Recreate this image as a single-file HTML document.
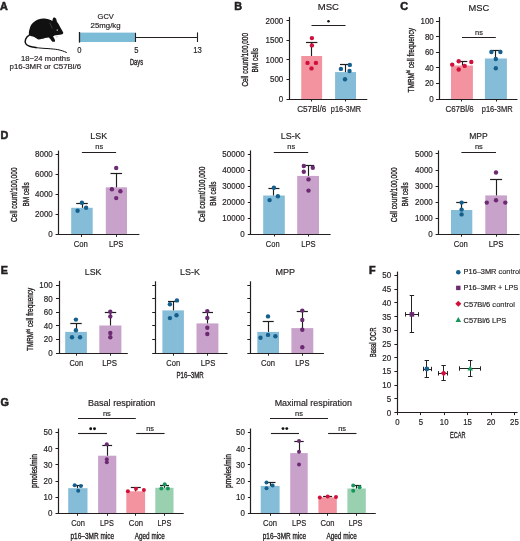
<!DOCTYPE html>
<html><head><meta charset="utf-8"><style>
html,body{margin:0;padding:0;background:#fff;}
body{width:520px;height:541px;overflow:hidden;}
svg{display:block;font-family:"Liberation Sans", sans-serif;filter:blur(0.3px);}
text{stroke:#231f20;stroke-width:0.18px;}
text.c{stroke-width:0.35px;}
text.p{stroke-width:0.55px;}
</style></head><body>
<svg width="520" height="541" viewBox="0 0 520 541" fill="#231f20">
<rect width="520" height="541" fill="#fff"/>
<text class="p" x="0.00" y="10.00" font-size="10.8" font-weight="bold">A</text>
<path fill="#111" d="M28.9,34.8 C28.8,32.5 29.0,30.5 29.4,29.7 C29.9,27.6 30.5,25.8 31.6,24.3 C33.0,22.3 35.2,20.6 38.0,19.4 C40.5,18.6 42.5,18.4 44.6,18.5 C46.6,18.7 48.6,19.3 50.6,20.0 L52.4,20.9 C52.4,19.8 52.8,18.2 53.6,17.4 C54.6,17.3 55.5,17.8 56.1,18.8 C56.6,19.8 56.8,20.8 56.8,21.6 C58.0,23.4 59.4,25.2 60.4,27.4 C61.4,29.2 62.4,30.8 63.2,32.4 C63.4,33.3 62.9,33.9 62.2,34.2 C60.8,34.6 59.0,34.8 57.5,35.1 L54.6,35.4 L53.0,36.6 C53.8,37.8 54.6,39.0 55.0,40.2 C55.2,41.0 55.0,41.7 54.2,41.8 L52.4,41.7 C51.6,40.8 51.0,40.0 50.5,39.3 L48.8,37.6 C47.6,37.9 46.2,38.1 45.1,38.1 C44.2,38.6 42.6,39.0 41.4,39.0 C40.2,39.4 39.2,39.5 38.4,39.4 C37.6,39.2 37.0,38.8 36.6,38.4 C35.2,37.8 34.0,37.1 33.0,36.6 C31.8,36.3 30.8,36.0 30.2,35.7 Z"/>
<path fill="none" stroke="#111" stroke-width="1.5" stroke-linecap="round" d="M29.4,35.2 C27.8,36.0 26.4,37.4 25.6,39.2 C25.0,40.8 25.0,42.4 25.9,43.9 C26.8,45.2 28.0,45.8 29.6,46.3 C31.6,46.9 33.8,47.3 36.0,47.6"/>
<path fill="none" stroke="#111" stroke-width="1.0" stroke-linecap="round" d="M35.5,47.6 C40.0,48.1 44.0,48.4 48.0,48.6 C52.0,48.9 55.0,49.2 57.2,49.5 C59.4,49.9 61.2,50.4 62.6,50.9 C64.0,51.4 65.2,51.9 66.4,52.4"/>
<path fill="none" stroke="#555" stroke-width="0.6" d="M49.6,22.6 C50.6,24.6 51.6,26.6 52.4,28.6"/>
<circle cx="57.3" cy="30.1" r="0.85" fill="#999"/>
<path fill="#ddd" d="M55.2,35.4 L57.6,35.4 L58.2,37.2 L56.2,37.8 Z"/>
<rect x="79.50" y="32.60" width="55.70" height="9.40" fill="#7dbcd6"/>
<line x1="79.50" y1="32.00" x2="79.50" y2="42.60" stroke="#231f20" stroke-width="1.3"/>
<line x1="135.50" y1="32.80" x2="135.50" y2="42.00" stroke="#231f20" stroke-width="1.1"/>
<line x1="135.50" y1="37.50" x2="197.30" y2="37.50" stroke="#231f20" stroke-width="1.1"/>
<line x1="197.50" y1="32.40" x2="197.50" y2="42.00" stroke="#231f20" stroke-width="1.1"/>
<text x="105.70" y="18.80" font-size="7.8" text-anchor="middle" textLength="16.20" lengthAdjust="spacingAndGlyphs">GCV</text>
<text x="105.60" y="28.40" font-size="7.8" text-anchor="middle" textLength="30.00" lengthAdjust="spacingAndGlyphs">25mg/kg</text>
<text x="79.40" y="52.70" font-size="8.6" text-anchor="middle" textLength="4.23" lengthAdjust="spacingAndGlyphs">0</text>
<text x="136.30" y="52.70" font-size="8.6" text-anchor="middle" textLength="4.23" lengthAdjust="spacingAndGlyphs">5</text>
<text x="197.60" y="52.70" font-size="8.6" text-anchor="middle" textLength="8.60" lengthAdjust="spacingAndGlyphs">13</text>
<text class="c" x="136.50" y="65.20" font-size="8.6" text-anchor="middle" textLength="13.00" lengthAdjust="spacingAndGlyphs">Days</text>
<text x="45.50" y="60.50" font-size="7.7" text-anchor="middle" textLength="49.00" lengthAdjust="spacingAndGlyphs">18−24 months</text>
<text x="45.30" y="68.50" font-size="7.8" text-anchor="middle" textLength="71.50" lengthAdjust="spacingAndGlyphs">p16-3MR or C57Bl/6</text>
<text class="p" x="234.30" y="9.80" font-size="10.8" font-weight="bold">B</text>
<text x="328.30" y="10.00" font-size="9.5" text-anchor="middle" textLength="21.20" lengthAdjust="spacingAndGlyphs">MSC</text>
<line x1="286.50" y1="20.50" x2="289.50" y2="20.50" stroke="#231f20" stroke-width="1.0"/>
<text x="283.30" y="23.55" font-size="8.5" text-anchor="end" textLength="17.80" lengthAdjust="spacingAndGlyphs">2000</text>
<line x1="286.50" y1="40.50" x2="289.50" y2="40.50" stroke="#231f20" stroke-width="1.0"/>
<text x="283.30" y="43.15" font-size="8.5" text-anchor="end" textLength="17.80" lengthAdjust="spacingAndGlyphs">1500</text>
<line x1="286.50" y1="59.50" x2="289.50" y2="59.50" stroke="#231f20" stroke-width="1.0"/>
<text x="283.30" y="62.75" font-size="8.5" text-anchor="end" textLength="17.80" lengthAdjust="spacingAndGlyphs">1000</text>
<line x1="286.50" y1="79.50" x2="289.50" y2="79.50" stroke="#231f20" stroke-width="1.0"/>
<text x="283.30" y="82.35" font-size="8.5" text-anchor="end" textLength="13.35" lengthAdjust="spacingAndGlyphs">500</text>
<line x1="286.50" y1="99.50" x2="289.50" y2="99.50" stroke="#231f20" stroke-width="1.0"/>
<text x="283.30" y="101.95" font-size="8.5" text-anchor="end" textLength="4.45" lengthAdjust="spacingAndGlyphs">0</text>
<line x1="311.50" y1="99.00" x2="311.50" y2="101.50" stroke="#231f20" stroke-width="1.0"/>
<line x1="345.50" y1="99.00" x2="345.50" y2="101.50" stroke="#231f20" stroke-width="1.0"/>
<rect x="301.25" y="56.00" width="20.85" height="43.00" fill="#f2939f"/>
<rect x="335.10" y="72.10" width="20.90" height="26.90" fill="#85bcd8"/>
<line x1="311.50" y1="56.00" x2="311.50" y2="42.50" stroke="#1e1e1e" stroke-width="1.15"/>
<line x1="306.00" y1="42.50" x2="317.40" y2="42.50" stroke="#1e1e1e" stroke-width="1.2"/>
<line x1="345.50" y1="72.10" x2="345.50" y2="64.90" stroke="#1e1e1e" stroke-width="1.15"/>
<line x1="340.00" y1="64.50" x2="350.40" y2="64.50" stroke="#1e1e1e" stroke-width="1.2"/>
<circle cx="311.90" cy="38.10" r="2.2" fill="#d0103b"/>
<circle cx="311.90" cy="45.40" r="2.2" fill="#d0103b"/>
<circle cx="307.50" cy="62.90" r="2.2" fill="#d0103b"/>
<circle cx="315.90" cy="62.90" r="2.2" fill="#d0103b"/>
<circle cx="311.50" cy="68.40" r="2.2" fill="#d0103b"/>
<circle cx="349.80" cy="64.90" r="2.2" fill="#155f8c"/>
<circle cx="340.90" cy="68.90" r="2.2" fill="#155f8c"/>
<circle cx="349.50" cy="71.00" r="2.2" fill="#155f8c"/>
<circle cx="345.00" cy="79.30" r="2.2" fill="#155f8c"/>
<line x1="311.50" y1="25.50" x2="345.50" y2="25.50" stroke="#231f20" stroke-width="1.1"/>
<circle cx="328.50" cy="21.30" r="1.25" fill="#111"/>
<text x="311.70" y="111.90" font-size="8.5" text-anchor="middle" textLength="29.10" lengthAdjust="spacingAndGlyphs">C57Bl/6</text>
<text x="346.00" y="111.50" font-size="8.5" text-anchor="middle" textLength="30.30" lengthAdjust="spacingAndGlyphs">p16-3MR</text>
<text class="c" x="0" y="0" font-size="9.0" text-anchor="middle" textLength="53.60" lengthAdjust="spacingAndGlyphs" transform="translate(247.50 59.80) rotate(-90)">Cell count/100,000</text>
<text class="c" x="0" y="0" font-size="9.0" text-anchor="middle" textLength="24.40" lengthAdjust="spacingAndGlyphs" transform="translate(257.80 60.30) rotate(-90)">BM cells</text>
<text class="p" x="400.30" y="10.00" font-size="10.8" font-weight="bold">C</text>
<text x="478.90" y="10.80" font-size="9.5" text-anchor="middle" textLength="20.70" lengthAdjust="spacingAndGlyphs">MSC</text>
<line x1="436.00" y1="21.50" x2="439.00" y2="21.50" stroke="#231f20" stroke-width="1.0"/>
<text x="433.80" y="23.95" font-size="8.5" text-anchor="end" textLength="13.35" lengthAdjust="spacingAndGlyphs">100</text>
<line x1="436.00" y1="36.50" x2="439.00" y2="36.50" stroke="#231f20" stroke-width="1.0"/>
<text x="433.80" y="39.55" font-size="8.5" text-anchor="end" textLength="8.90" lengthAdjust="spacingAndGlyphs">80</text>
<line x1="436.00" y1="52.50" x2="439.00" y2="52.50" stroke="#231f20" stroke-width="1.0"/>
<text x="433.80" y="55.25" font-size="8.5" text-anchor="end" textLength="8.90" lengthAdjust="spacingAndGlyphs">60</text>
<line x1="436.00" y1="67.50" x2="439.00" y2="67.50" stroke="#231f20" stroke-width="1.0"/>
<text x="433.80" y="70.75" font-size="8.5" text-anchor="end" textLength="8.90" lengthAdjust="spacingAndGlyphs">40</text>
<line x1="436.00" y1="83.50" x2="439.00" y2="83.50" stroke="#231f20" stroke-width="1.0"/>
<text x="433.80" y="86.35" font-size="8.5" text-anchor="end" textLength="8.90" lengthAdjust="spacingAndGlyphs">20</text>
<line x1="436.00" y1="99.50" x2="439.00" y2="99.50" stroke="#231f20" stroke-width="1.0"/>
<text x="433.80" y="101.95" font-size="8.5" text-anchor="end" textLength="4.45" lengthAdjust="spacingAndGlyphs">0</text>
<line x1="461.50" y1="99.00" x2="461.50" y2="101.50" stroke="#231f20" stroke-width="1.0"/>
<line x1="496.50" y1="99.00" x2="496.50" y2="101.50" stroke="#231f20" stroke-width="1.0"/>
<rect x="451.00" y="65.50" width="21.90" height="33.50" fill="#f2939f"/>
<rect x="484.90" y="58.50" width="22.00" height="40.50" fill="#85bcd8"/>
<line x1="462.50" y1="65.50" x2="462.50" y2="61.30" stroke="#1e1e1e" stroke-width="1.15"/>
<line x1="457.70" y1="61.50" x2="467.30" y2="61.50" stroke="#1e1e1e" stroke-width="1.2"/>
<line x1="495.50" y1="58.50" x2="495.50" y2="50.30" stroke="#1e1e1e" stroke-width="1.15"/>
<line x1="490.60" y1="50.50" x2="501.20" y2="50.50" stroke="#1e1e1e" stroke-width="1.2"/>
<circle cx="452.20" cy="64.60" r="2.2" fill="#d0103b"/>
<circle cx="458.70" cy="61.30" r="2.2" fill="#d0103b"/>
<circle cx="471.30" cy="62.00" r="2.2" fill="#d0103b"/>
<circle cx="464.70" cy="65.90" r="2.2" fill="#d0103b"/>
<circle cx="458.70" cy="69.50" r="2.2" fill="#d0103b"/>
<circle cx="491.40" cy="52.00" r="2.2" fill="#155f8c"/>
<circle cx="500.40" cy="52.00" r="2.2" fill="#155f8c"/>
<circle cx="495.80" cy="59.00" r="2.2" fill="#155f8c"/>
<circle cx="495.80" cy="68.30" r="2.2" fill="#155f8c"/>
<line x1="462.00" y1="37.50" x2="495.80" y2="37.50" stroke="#231f20" stroke-width="1.1"/>
<text x="479.00" y="34.80" font-size="7.6" text-anchor="middle" textLength="7.82" lengthAdjust="spacingAndGlyphs">ns</text>
<text x="459.60" y="112.00" font-size="8.5" text-anchor="middle" textLength="28.40" lengthAdjust="spacingAndGlyphs">C67Bl/6</text>
<text x="497.20" y="111.50" font-size="8.5" text-anchor="middle" textLength="30.80" lengthAdjust="spacingAndGlyphs">p16-3MR</text>
<text class="c" x="0" y="0" font-size="9.0" text-anchor="middle" textLength="64.40" lengthAdjust="spacingAndGlyphs" transform="translate(413.50 60.30) rotate(-90)">TMRM<tspan font-size="5.4" dy="-3.6">hi</tspan><tspan dy="3.6"> cell frequency</tspan></text>
<text class="p" x="0.50" y="139.00" font-size="10.8" font-weight="bold">D</text>
<text x="98.80" y="139.20" font-size="9.5" text-anchor="middle" textLength="16.90" lengthAdjust="spacingAndGlyphs">LSK</text>
<line x1="81.90" y1="152.50" x2="116.10" y2="152.50" stroke="#231f20" stroke-width="1.1"/>
<text x="99.20" y="149.20" font-size="7.6" text-anchor="middle" textLength="7.82" lengthAdjust="spacingAndGlyphs">ns</text>
<line x1="55.60" y1="154.50" x2="58.60" y2="154.50" stroke="#231f20" stroke-width="1.0"/>
<text x="52.80" y="157.35" font-size="8.5" text-anchor="end" textLength="17.80" lengthAdjust="spacingAndGlyphs">8000</text>
<line x1="55.60" y1="174.50" x2="58.60" y2="174.50" stroke="#231f20" stroke-width="1.0"/>
<text x="52.80" y="177.35" font-size="8.5" text-anchor="end" textLength="17.80" lengthAdjust="spacingAndGlyphs">6000</text>
<line x1="55.60" y1="194.50" x2="58.60" y2="194.50" stroke="#231f20" stroke-width="1.0"/>
<text x="52.80" y="197.35" font-size="8.5" text-anchor="end" textLength="17.80" lengthAdjust="spacingAndGlyphs">4000</text>
<line x1="55.60" y1="214.50" x2="58.60" y2="214.50" stroke="#231f20" stroke-width="1.0"/>
<text x="52.80" y="217.35" font-size="8.5" text-anchor="end" textLength="17.80" lengthAdjust="spacingAndGlyphs">2000</text>
<line x1="55.60" y1="234.50" x2="58.60" y2="234.50" stroke="#231f20" stroke-width="1.0"/>
<text x="52.80" y="237.35" font-size="8.5" text-anchor="end" textLength="4.45" lengthAdjust="spacingAndGlyphs">0</text>
<line x1="81.50" y1="234.40" x2="81.50" y2="236.90" stroke="#231f20" stroke-width="1.0"/>
<line x1="116.50" y1="234.40" x2="116.50" y2="236.90" stroke="#231f20" stroke-width="1.0"/>
<rect x="71.20" y="207.80" width="21.50" height="26.60" fill="#85bcd8"/>
<rect x="105.80" y="187.30" width="21.20" height="47.10" fill="#c9a2cb"/>
<line x1="82.50" y1="207.80" x2="82.50" y2="203.20" stroke="#1e1e1e" stroke-width="1.15"/>
<line x1="76.20" y1="203.50" x2="87.80" y2="203.50" stroke="#1e1e1e" stroke-width="1.2"/>
<line x1="116.50" y1="187.30" x2="116.50" y2="173.80" stroke="#1e1e1e" stroke-width="1.15"/>
<line x1="110.50" y1="173.50" x2="122.10" y2="173.50" stroke="#1e1e1e" stroke-width="1.2"/>
<circle cx="81.90" cy="202.70" r="2.2" fill="#155f8c"/>
<circle cx="86.10" cy="207.80" r="2.2" fill="#155f8c"/>
<circle cx="77.60" cy="210.70" r="2.2" fill="#155f8c"/>
<circle cx="116.20" cy="168.00" r="2.2" fill="#6c2a72"/>
<circle cx="111.90" cy="189.30" r="2.2" fill="#6c2a72"/>
<circle cx="120.40" cy="191.20" r="2.2" fill="#6c2a72"/>
<circle cx="116.20" cy="198.10" r="2.2" fill="#6c2a72"/>
<text x="80.80" y="246.60" font-size="8.5" text-anchor="middle" textLength="14.20" lengthAdjust="spacingAndGlyphs">Con</text>
<text x="116.20" y="246.60" font-size="8.5" text-anchor="middle" textLength="14.30" lengthAdjust="spacingAndGlyphs">LPS</text>
<text class="c" x="0" y="0" font-size="9.0" text-anchor="middle" textLength="54.40" lengthAdjust="spacingAndGlyphs" transform="translate(17.30 194.70) rotate(-90)">Cell count/100,000</text>
<text class="c" x="0" y="0" font-size="9.0" text-anchor="middle" textLength="24.20" lengthAdjust="spacingAndGlyphs" transform="translate(28.90 194.50) rotate(-90)">BM cells</text>
<text x="290.80" y="139.20" font-size="9.5" text-anchor="middle" textLength="20.00" lengthAdjust="spacingAndGlyphs">LS-K</text>
<line x1="273.80" y1="152.50" x2="308.20" y2="152.50" stroke="#231f20" stroke-width="1.1"/>
<text x="291.20" y="149.30" font-size="7.6" text-anchor="middle" textLength="7.82" lengthAdjust="spacingAndGlyphs">ns</text>
<line x1="247.80" y1="154.50" x2="250.80" y2="154.50" stroke="#231f20" stroke-width="1.0"/>
<text x="244.60" y="156.95" font-size="8.5" text-anchor="end" textLength="22.25" lengthAdjust="spacingAndGlyphs">50000</text>
<line x1="247.80" y1="170.50" x2="250.80" y2="170.50" stroke="#231f20" stroke-width="1.0"/>
<text x="244.60" y="172.95" font-size="8.5" text-anchor="end" textLength="22.25" lengthAdjust="spacingAndGlyphs">40000</text>
<line x1="247.80" y1="186.50" x2="250.80" y2="186.50" stroke="#231f20" stroke-width="1.0"/>
<text x="244.60" y="188.95" font-size="8.5" text-anchor="end" textLength="22.25" lengthAdjust="spacingAndGlyphs">30000</text>
<line x1="247.80" y1="202.50" x2="250.80" y2="202.50" stroke="#231f20" stroke-width="1.0"/>
<text x="244.60" y="204.95" font-size="8.5" text-anchor="end" textLength="22.25" lengthAdjust="spacingAndGlyphs">20000</text>
<line x1="247.80" y1="218.50" x2="250.80" y2="218.50" stroke="#231f20" stroke-width="1.0"/>
<text x="244.60" y="220.95" font-size="8.5" text-anchor="end" textLength="22.25" lengthAdjust="spacingAndGlyphs">10000</text>
<line x1="247.80" y1="234.50" x2="250.80" y2="234.50" stroke="#231f20" stroke-width="1.0"/>
<text x="244.60" y="236.95" font-size="8.5" text-anchor="end" textLength="4.45" lengthAdjust="spacingAndGlyphs">0</text>
<line x1="274.50" y1="234.00" x2="274.50" y2="236.50" stroke="#231f20" stroke-width="1.0"/>
<line x1="308.50" y1="234.00" x2="308.50" y2="236.50" stroke="#231f20" stroke-width="1.0"/>
<rect x="263.20" y="195.50" width="21.60" height="38.50" fill="#85bcd8"/>
<rect x="297.20" y="175.90" width="21.80" height="58.10" fill="#c9a2cb"/>
<line x1="273.50" y1="195.50" x2="273.50" y2="188.20" stroke="#1e1e1e" stroke-width="1.15"/>
<line x1="268.40" y1="188.50" x2="279.40" y2="188.50" stroke="#1e1e1e" stroke-width="1.2"/>
<line x1="308.50" y1="175.90" x2="308.50" y2="165.20" stroke="#1e1e1e" stroke-width="1.15"/>
<line x1="302.40" y1="165.50" x2="314.20" y2="165.50" stroke="#1e1e1e" stroke-width="1.2"/>
<circle cx="273.90" cy="187.70" r="2.2" fill="#155f8c"/>
<circle cx="277.90" cy="196.30" r="2.2" fill="#155f8c"/>
<circle cx="269.60" cy="200.10" r="2.2" fill="#155f8c"/>
<circle cx="303.80" cy="166.00" r="2.2" fill="#6c2a72"/>
<circle cx="312.80" cy="167.80" r="2.2" fill="#6c2a72"/>
<circle cx="303.80" cy="171.80" r="2.2" fill="#6c2a72"/>
<circle cx="308.50" cy="179.40" r="2.2" fill="#6c2a72"/>
<circle cx="308.50" cy="190.60" r="2.2" fill="#6c2a72"/>
<text x="272.70" y="247.00" font-size="8.5" text-anchor="middle" textLength="13.80" lengthAdjust="spacingAndGlyphs">Con</text>
<text x="308.40" y="247.00" font-size="8.5" text-anchor="middle" textLength="14.40" lengthAdjust="spacingAndGlyphs">LPS</text>
<text class="c" x="0" y="0" font-size="9.0" text-anchor="middle" textLength="55.30" lengthAdjust="spacingAndGlyphs" transform="translate(205.10 194.30) rotate(-90)">Cell count/100,000</text>
<text class="c" x="0" y="0" font-size="9.0" text-anchor="middle" textLength="24.10" lengthAdjust="spacingAndGlyphs" transform="translate(215.90 193.70) rotate(-90)">BM cells</text>
<text x="478.50" y="138.80" font-size="9.5" text-anchor="middle" textLength="18.50" lengthAdjust="spacingAndGlyphs">MPP</text>
<line x1="461.40" y1="152.50" x2="496.00" y2="152.50" stroke="#231f20" stroke-width="1.1"/>
<text x="478.90" y="149.30" font-size="7.6" text-anchor="middle" textLength="7.82" lengthAdjust="spacingAndGlyphs">ns</text>
<line x1="435.60" y1="153.50" x2="438.60" y2="153.50" stroke="#231f20" stroke-width="1.0"/>
<text x="432.80" y="156.75" font-size="8.5" text-anchor="end" textLength="17.80" lengthAdjust="spacingAndGlyphs">5000</text>
<line x1="435.60" y1="170.50" x2="438.60" y2="170.50" stroke="#231f20" stroke-width="1.0"/>
<text x="432.80" y="172.95" font-size="8.5" text-anchor="end" textLength="17.80" lengthAdjust="spacingAndGlyphs">4000</text>
<line x1="435.60" y1="186.50" x2="438.60" y2="186.50" stroke="#231f20" stroke-width="1.0"/>
<text x="432.80" y="189.05" font-size="8.5" text-anchor="end" textLength="17.80" lengthAdjust="spacingAndGlyphs">3000</text>
<line x1="435.60" y1="202.50" x2="438.60" y2="202.50" stroke="#231f20" stroke-width="1.0"/>
<text x="432.80" y="205.15" font-size="8.5" text-anchor="end" textLength="17.80" lengthAdjust="spacingAndGlyphs">2000</text>
<line x1="435.60" y1="218.50" x2="438.60" y2="218.50" stroke="#231f20" stroke-width="1.0"/>
<text x="432.80" y="221.15" font-size="8.5" text-anchor="end" textLength="17.80" lengthAdjust="spacingAndGlyphs">1000</text>
<line x1="435.60" y1="234.50" x2="438.60" y2="234.50" stroke="#231f20" stroke-width="1.0"/>
<text x="432.80" y="237.15" font-size="8.5" text-anchor="end" textLength="4.45" lengthAdjust="spacingAndGlyphs">0</text>
<line x1="461.50" y1="234.20" x2="461.50" y2="236.70" stroke="#231f20" stroke-width="1.0"/>
<line x1="496.50" y1="234.20" x2="496.50" y2="236.70" stroke="#231f20" stroke-width="1.0"/>
<rect x="451.00" y="210.00" width="21.30" height="24.20" fill="#85bcd8"/>
<rect x="485.30" y="195.40" width="21.70" height="38.80" fill="#c9a2cb"/>
<line x1="461.50" y1="210.00" x2="461.50" y2="202.80" stroke="#1e1e1e" stroke-width="1.15"/>
<line x1="456.20" y1="202.50" x2="467.20" y2="202.50" stroke="#1e1e1e" stroke-width="1.2"/>
<line x1="496.50" y1="195.40" x2="496.50" y2="179.90" stroke="#1e1e1e" stroke-width="1.15"/>
<line x1="490.10" y1="179.50" x2="502.10" y2="179.50" stroke="#1e1e1e" stroke-width="1.2"/>
<circle cx="461.60" cy="202.60" r="2.2" fill="#155f8c"/>
<circle cx="461.60" cy="209.60" r="2.2" fill="#155f8c"/>
<circle cx="461.60" cy="214.40" r="2.2" fill="#155f8c"/>
<circle cx="496.00" cy="172.50" r="2.2" fill="#6c2a72"/>
<circle cx="486.80" cy="202.60" r="2.2" fill="#6c2a72"/>
<circle cx="496.00" cy="200.30" r="2.2" fill="#6c2a72"/>
<circle cx="505.30" cy="202.60" r="2.2" fill="#6c2a72"/>
<text x="460.80" y="247.00" font-size="8.5" text-anchor="middle" textLength="14.10" lengthAdjust="spacingAndGlyphs">Con</text>
<text x="496.00" y="247.00" font-size="8.5" text-anchor="middle" textLength="14.70" lengthAdjust="spacingAndGlyphs">LPS</text>
<text class="c" x="0" y="0" font-size="9.0" text-anchor="middle" textLength="54.90" lengthAdjust="spacingAndGlyphs" transform="translate(397.20 194.90) rotate(-90)">Cell count/100,000</text>
<text class="c" x="0" y="0" font-size="9.0" text-anchor="middle" textLength="24.20" lengthAdjust="spacingAndGlyphs" transform="translate(408.40 194.50) rotate(-90)">BM cells</text>
<text class="p" x="0.70" y="274.00" font-size="10.8" font-weight="bold">E</text>
<text x="93.10" y="274.50" font-size="9.5" text-anchor="middle" textLength="16.60" lengthAdjust="spacingAndGlyphs">LSK</text>
<line x1="56.00" y1="285.50" x2="59.00" y2="285.50" stroke="#231f20" stroke-width="1.0"/>
<text x="52.60" y="287.95" font-size="8.5" text-anchor="end" textLength="13.35" lengthAdjust="spacingAndGlyphs">100</text>
<line x1="56.00" y1="298.50" x2="59.00" y2="298.50" stroke="#231f20" stroke-width="1.0"/>
<text x="52.60" y="301.55" font-size="8.5" text-anchor="end" textLength="8.90" lengthAdjust="spacingAndGlyphs">80</text>
<line x1="56.00" y1="312.50" x2="59.00" y2="312.50" stroke="#231f20" stroke-width="1.0"/>
<text x="52.60" y="315.15" font-size="8.5" text-anchor="end" textLength="8.90" lengthAdjust="spacingAndGlyphs">60</text>
<line x1="56.00" y1="325.50" x2="59.00" y2="325.50" stroke="#231f20" stroke-width="1.0"/>
<text x="52.60" y="328.85" font-size="8.5" text-anchor="end" textLength="8.90" lengthAdjust="spacingAndGlyphs">40</text>
<line x1="56.00" y1="339.50" x2="59.00" y2="339.50" stroke="#231f20" stroke-width="1.0"/>
<text x="52.60" y="342.45" font-size="8.5" text-anchor="end" textLength="8.90" lengthAdjust="spacingAndGlyphs">20</text>
<line x1="56.00" y1="353.50" x2="59.00" y2="353.50" stroke="#231f20" stroke-width="1.0"/>
<text x="52.60" y="356.15" font-size="8.5" text-anchor="end" textLength="4.45" lengthAdjust="spacingAndGlyphs">0</text>
<line x1="76.50" y1="353.20" x2="76.50" y2="355.70" stroke="#231f20" stroke-width="1.0"/>
<line x1="110.50" y1="353.20" x2="110.50" y2="355.70" stroke="#231f20" stroke-width="1.0"/>
<rect x="65.20" y="331.90" width="21.70" height="21.30" fill="#85bcd8"/>
<rect x="99.30" y="325.50" width="22.10" height="27.70" fill="#c9a2cb"/>
<line x1="76.50" y1="331.90" x2="76.50" y2="323.20" stroke="#1e1e1e" stroke-width="1.15"/>
<line x1="70.30" y1="323.50" x2="81.70" y2="323.50" stroke="#1e1e1e" stroke-width="1.2"/>
<line x1="110.50" y1="325.50" x2="110.50" y2="312.10" stroke="#1e1e1e" stroke-width="1.15"/>
<line x1="104.80" y1="312.50" x2="116.20" y2="312.50" stroke="#1e1e1e" stroke-width="1.2"/>
<circle cx="75.90" cy="319.60" r="2.2" fill="#155f8c"/>
<circle cx="75.90" cy="330.20" r="2.2" fill="#155f8c"/>
<circle cx="72.00" cy="337.20" r="2.2" fill="#155f8c"/>
<circle cx="80.10" cy="337.20" r="2.2" fill="#155f8c"/>
<circle cx="110.30" cy="311.70" r="2.2" fill="#6c2a72"/>
<circle cx="110.30" cy="316.40" r="2.2" fill="#6c2a72"/>
<circle cx="110.30" cy="333.00" r="2.2" fill="#6c2a72"/>
<circle cx="110.30" cy="337.20" r="2.2" fill="#6c2a72"/>
<text x="76.30" y="366.00" font-size="8.5" text-anchor="middle" textLength="13.60" lengthAdjust="spacingAndGlyphs">Con</text>
<text x="109.60" y="366.00" font-size="8.5" text-anchor="middle" textLength="14.90" lengthAdjust="spacingAndGlyphs">LPS</text>
<text class="c" x="0" y="0" font-size="9.0" text-anchor="middle" textLength="63.20" lengthAdjust="spacingAndGlyphs" transform="translate(33.40 319.40) rotate(-90)">TMRM<tspan font-size="5.4" dy="-3.6">hi</tspan><tspan dy="3.6"> cell frequency</tspan></text>
<text x="190.00" y="274.50" font-size="9.5" text-anchor="middle" textLength="19.80" lengthAdjust="spacingAndGlyphs">LS-K</text>
<line x1="152.20" y1="285.50" x2="155.20" y2="285.50" stroke="#231f20" stroke-width="1.0"/>
<line x1="152.20" y1="298.50" x2="155.20" y2="298.50" stroke="#231f20" stroke-width="1.0"/>
<line x1="152.20" y1="312.50" x2="155.20" y2="312.50" stroke="#231f20" stroke-width="1.0"/>
<line x1="152.20" y1="325.50" x2="155.20" y2="325.50" stroke="#231f20" stroke-width="1.0"/>
<line x1="152.20" y1="339.50" x2="155.20" y2="339.50" stroke="#231f20" stroke-width="1.0"/>
<line x1="152.20" y1="353.50" x2="155.20" y2="353.50" stroke="#231f20" stroke-width="1.0"/>
<line x1="173.50" y1="353.20" x2="173.50" y2="355.70" stroke="#231f20" stroke-width="1.0"/>
<line x1="207.50" y1="353.20" x2="207.50" y2="355.70" stroke="#231f20" stroke-width="1.0"/>
<rect x="162.40" y="310.40" width="21.50" height="42.80" fill="#85bcd8"/>
<rect x="196.50" y="323.40" width="21.90" height="29.80" fill="#c9a2cb"/>
<line x1="173.50" y1="310.40" x2="173.50" y2="301.10" stroke="#1e1e1e" stroke-width="1.15"/>
<line x1="168.00" y1="301.50" x2="178.60" y2="301.50" stroke="#1e1e1e" stroke-width="1.2"/>
<line x1="207.50" y1="323.40" x2="207.50" y2="312.60" stroke="#1e1e1e" stroke-width="1.15"/>
<line x1="202.40" y1="312.50" x2="213.00" y2="312.50" stroke="#1e1e1e" stroke-width="1.2"/>
<circle cx="176.90" cy="300.40" r="2.2" fill="#155f8c"/>
<circle cx="169.90" cy="304.30" r="2.2" fill="#155f8c"/>
<circle cx="176.50" cy="315.30" r="2.2" fill="#155f8c"/>
<circle cx="169.90" cy="318.10" r="2.2" fill="#155f8c"/>
<circle cx="207.30" cy="311.10" r="2.2" fill="#6c2a72"/>
<circle cx="207.30" cy="317.90" r="2.2" fill="#6c2a72"/>
<circle cx="207.30" cy="327.70" r="2.2" fill="#6c2a72"/>
<circle cx="207.30" cy="334.00" r="2.2" fill="#6c2a72"/>
<text x="173.20" y="365.80" font-size="8.5" text-anchor="middle" textLength="13.80" lengthAdjust="spacingAndGlyphs">Con</text>
<text x="208.00" y="365.80" font-size="8.5" text-anchor="middle" textLength="14.50" lengthAdjust="spacingAndGlyphs">LPS</text>
<text class="c" x="190.10" y="378.00" font-size="9.4" text-anchor="middle" textLength="27.20" lengthAdjust="spacingAndGlyphs">P16–3MR</text>
<text x="285.20" y="274.50" font-size="9.5" text-anchor="middle" textLength="19.60" lengthAdjust="spacingAndGlyphs">MPP</text>
<line x1="247.30" y1="285.50" x2="250.30" y2="285.50" stroke="#231f20" stroke-width="1.0"/>
<line x1="247.30" y1="298.50" x2="250.30" y2="298.50" stroke="#231f20" stroke-width="1.0"/>
<line x1="247.30" y1="312.50" x2="250.30" y2="312.50" stroke="#231f20" stroke-width="1.0"/>
<line x1="247.30" y1="325.50" x2="250.30" y2="325.50" stroke="#231f20" stroke-width="1.0"/>
<line x1="247.30" y1="339.50" x2="250.30" y2="339.50" stroke="#231f20" stroke-width="1.0"/>
<line x1="247.30" y1="353.50" x2="250.30" y2="353.50" stroke="#231f20" stroke-width="1.0"/>
<line x1="268.50" y1="353.20" x2="268.50" y2="355.70" stroke="#231f20" stroke-width="1.0"/>
<line x1="302.50" y1="353.20" x2="302.50" y2="355.70" stroke="#231f20" stroke-width="1.0"/>
<rect x="257.30" y="331.90" width="21.70" height="21.30" fill="#85bcd8"/>
<rect x="291.40" y="328.10" width="21.90" height="25.10" fill="#c9a2cb"/>
<line x1="268.50" y1="331.90" x2="268.50" y2="321.30" stroke="#1e1e1e" stroke-width="1.15"/>
<line x1="262.70" y1="321.50" x2="273.70" y2="321.50" stroke="#1e1e1e" stroke-width="1.2"/>
<line x1="302.50" y1="328.10" x2="302.50" y2="311.10" stroke="#1e1e1e" stroke-width="1.15"/>
<line x1="296.70" y1="311.50" x2="307.90" y2="311.50" stroke="#1e1e1e" stroke-width="1.2"/>
<circle cx="268.00" cy="316.40" r="2.2" fill="#155f8c"/>
<circle cx="268.00" cy="334.90" r="2.2" fill="#155f8c"/>
<circle cx="260.50" cy="337.70" r="2.2" fill="#155f8c"/>
<circle cx="275.40" cy="336.20" r="2.2" fill="#155f8c"/>
<circle cx="302.30" cy="310.60" r="2.2" fill="#6c2a72"/>
<circle cx="302.30" cy="320.00" r="2.2" fill="#6c2a72"/>
<circle cx="302.30" cy="329.80" r="2.2" fill="#6c2a72"/>
<circle cx="302.30" cy="347.20" r="2.2" fill="#6c2a72"/>
<text x="268.00" y="365.80" font-size="8.5" text-anchor="middle" textLength="14.00" lengthAdjust="spacingAndGlyphs">Con</text>
<text x="302.30" y="365.80" font-size="8.5" text-anchor="middle" textLength="14.30" lengthAdjust="spacingAndGlyphs">LPS</text>
<text class="p" x="369.00" y="274.10" font-size="10.8" font-weight="bold">F</text>
<line x1="394.40" y1="412.50" x2="397.40" y2="412.50" stroke="#231f20" stroke-width="1.0"/>
<text x="391.20" y="415.55" font-size="8.5" text-anchor="end" textLength="4.45" lengthAdjust="spacingAndGlyphs">0</text>
<line x1="394.40" y1="398.50" x2="397.40" y2="398.50" stroke="#231f20" stroke-width="1.0"/>
<text x="391.20" y="401.83" font-size="8.5" text-anchor="end" textLength="4.45" lengthAdjust="spacingAndGlyphs">5</text>
<line x1="394.40" y1="385.50" x2="397.40" y2="385.50" stroke="#231f20" stroke-width="1.0"/>
<text x="391.20" y="388.11" font-size="8.5" text-anchor="end" textLength="8.90" lengthAdjust="spacingAndGlyphs">10</text>
<line x1="394.40" y1="371.50" x2="397.40" y2="371.50" stroke="#231f20" stroke-width="1.0"/>
<text x="391.20" y="374.39" font-size="8.5" text-anchor="end" textLength="8.90" lengthAdjust="spacingAndGlyphs">15</text>
<line x1="394.40" y1="357.50" x2="397.40" y2="357.50" stroke="#231f20" stroke-width="1.0"/>
<text x="391.20" y="360.67" font-size="8.5" text-anchor="end" textLength="8.90" lengthAdjust="spacingAndGlyphs">20</text>
<line x1="394.40" y1="344.50" x2="397.40" y2="344.50" stroke="#231f20" stroke-width="1.0"/>
<text x="391.20" y="346.95" font-size="8.5" text-anchor="end" textLength="8.90" lengthAdjust="spacingAndGlyphs">25</text>
<line x1="394.40" y1="330.50" x2="397.40" y2="330.50" stroke="#231f20" stroke-width="1.0"/>
<text x="391.20" y="333.23" font-size="8.5" text-anchor="end" textLength="8.90" lengthAdjust="spacingAndGlyphs">30</text>
<line x1="394.40" y1="316.50" x2="397.40" y2="316.50" stroke="#231f20" stroke-width="1.0"/>
<text x="391.20" y="319.51" font-size="8.5" text-anchor="end" textLength="8.90" lengthAdjust="spacingAndGlyphs">35</text>
<line x1="394.40" y1="302.50" x2="397.40" y2="302.50" stroke="#231f20" stroke-width="1.0"/>
<text x="391.20" y="305.79" font-size="8.5" text-anchor="end" textLength="8.90" lengthAdjust="spacingAndGlyphs">40</text>
<line x1="394.40" y1="289.50" x2="397.40" y2="289.50" stroke="#231f20" stroke-width="1.0"/>
<text x="391.20" y="292.07" font-size="8.5" text-anchor="end" textLength="8.90" lengthAdjust="spacingAndGlyphs">45</text>
<line x1="394.40" y1="275.50" x2="397.40" y2="275.50" stroke="#231f20" stroke-width="1.0"/>
<text x="391.20" y="278.35" font-size="8.5" text-anchor="end" textLength="8.90" lengthAdjust="spacingAndGlyphs">50</text>
<line x1="397.50" y1="412.60" x2="397.50" y2="415.10" stroke="#231f20" stroke-width="1.0"/>
<line x1="420.50" y1="412.60" x2="420.50" y2="415.10" stroke="#231f20" stroke-width="1.0"/>
<line x1="444.50" y1="412.60" x2="444.50" y2="415.10" stroke="#231f20" stroke-width="1.0"/>
<line x1="467.50" y1="412.60" x2="467.50" y2="415.10" stroke="#231f20" stroke-width="1.0"/>
<line x1="491.50" y1="412.60" x2="491.50" y2="415.10" stroke="#231f20" stroke-width="1.0"/>
<line x1="514.50" y1="412.60" x2="514.50" y2="415.10" stroke="#231f20" stroke-width="1.0"/>
<text x="397.40" y="425.40" font-size="8.3" text-anchor="middle" textLength="4.34" lengthAdjust="spacingAndGlyphs">0</text>
<text x="420.80" y="425.40" font-size="8.3" text-anchor="middle" textLength="4.34" lengthAdjust="spacingAndGlyphs">5</text>
<text x="444.20" y="425.40" font-size="8.3" text-anchor="middle" textLength="8.68" lengthAdjust="spacingAndGlyphs">10</text>
<text x="467.60" y="425.40" font-size="8.3" text-anchor="middle" textLength="8.68" lengthAdjust="spacingAndGlyphs">15</text>
<text x="491.00" y="425.40" font-size="8.3" text-anchor="middle" textLength="8.68" lengthAdjust="spacingAndGlyphs">20</text>
<text x="514.40" y="425.40" font-size="8.3" text-anchor="middle" textLength="8.68" lengthAdjust="spacingAndGlyphs">25</text>
<text class="c" x="457.80" y="438.00" font-size="9.8" text-anchor="middle" textLength="15.40" lengthAdjust="spacingAndGlyphs">ECAR</text>
<text class="c" x="0" y="0" font-size="9.8" text-anchor="middle" textLength="29.60" lengthAdjust="spacingAndGlyphs" transform="translate(376.30 342.40) rotate(-90)">Basal OCR</text>
<line x1="411.50" y1="295.30" x2="411.50" y2="332.90" stroke="#222" stroke-width="1.0"/>
<line x1="409.70" y1="295.50" x2="414.10" y2="295.50" stroke="#222" stroke-width="1.0"/>
<line x1="409.70" y1="332.50" x2="414.10" y2="332.50" stroke="#222" stroke-width="1.0"/>
<line x1="405.20" y1="314.50" x2="418.50" y2="314.50" stroke="#222" stroke-width="1.0"/>
<line x1="405.50" y1="312.20" x2="405.50" y2="316.60" stroke="#222" stroke-width="1.0"/>
<line x1="418.50" y1="312.20" x2="418.50" y2="316.60" stroke="#222" stroke-width="1.0"/>
<rect x="409.60" y="312.10" width="4.60" height="4.60" fill="#6c2a72"/>
<line x1="426.50" y1="360.80" x2="426.50" y2="377.10" stroke="#222" stroke-width="1.0"/>
<line x1="424.60" y1="360.50" x2="429.00" y2="360.50" stroke="#222" stroke-width="1.0"/>
<line x1="424.60" y1="377.50" x2="429.00" y2="377.50" stroke="#222" stroke-width="1.0"/>
<line x1="423.00" y1="369.50" x2="431.00" y2="369.50" stroke="#222" stroke-width="1.0"/>
<line x1="423.50" y1="366.80" x2="423.50" y2="371.20" stroke="#222" stroke-width="1.0"/>
<line x1="431.50" y1="366.80" x2="431.50" y2="371.20" stroke="#222" stroke-width="1.0"/>
<circle cx="426.80" cy="369.00" r="2.4" fill="#155f8c"/>
<line x1="443.50" y1="365.60" x2="443.50" y2="380.80" stroke="#222" stroke-width="1.0"/>
<line x1="441.40" y1="365.50" x2="445.80" y2="365.50" stroke="#222" stroke-width="1.0"/>
<line x1="441.40" y1="380.50" x2="445.80" y2="380.50" stroke="#222" stroke-width="1.0"/>
<line x1="438.80" y1="373.50" x2="447.90" y2="373.50" stroke="#222" stroke-width="1.0"/>
<line x1="438.50" y1="371.10" x2="438.50" y2="375.50" stroke="#222" stroke-width="1.0"/>
<line x1="447.50" y1="371.10" x2="447.50" y2="375.50" stroke="#222" stroke-width="1.0"/>
<path d="M443.60,370.30 L446.60,373.30 L443.60,376.30 L440.60,373.30 Z" fill="#d0103b"/>
<line x1="470.50" y1="360.80" x2="470.50" y2="376.00" stroke="#222" stroke-width="1.0"/>
<line x1="468.00" y1="360.50" x2="472.40" y2="360.50" stroke="#222" stroke-width="1.0"/>
<line x1="468.00" y1="376.50" x2="472.40" y2="376.50" stroke="#222" stroke-width="1.0"/>
<line x1="459.40" y1="368.50" x2="480.80" y2="368.50" stroke="#222" stroke-width="1.0"/>
<line x1="459.50" y1="366.30" x2="459.50" y2="370.70" stroke="#222" stroke-width="1.0"/>
<line x1="480.50" y1="366.30" x2="480.50" y2="370.70" stroke="#222" stroke-width="1.0"/>
<path d="M470.20,365.60 L473.00,370.50 L467.40,370.50 Z" fill="#17955a"/>
<circle cx="458.30" cy="272.30" r="2.3" fill="#155f8c"/>
<rect x="456.10" y="285.70" width="4.40" height="4.40" fill="#6c2a72"/>
<path d="M458.3,300.8 L461.3,303.8 L458.3,306.8 L455.3,303.8 Z" fill="#d0103b"/>
<path d="M458.3,317.1 L461.1,322.0 L455.5,322.0 Z" fill="#17955a"/>
<text x="463.60" y="274.40" font-size="7.4">P16–3MR <tspan fill="#444">control</tspan></text>
<text x="463.60" y="290.30" font-size="7.4" textLength="54.60" lengthAdjust="spacingAndGlyphs">P16–3MR + LPS</text>
<text x="463.60" y="306.60" font-size="7.4" textLength="51.30" lengthAdjust="spacingAndGlyphs">C57Bl/6 <tspan fill="#444">control</tspan></text>
<text x="463.60" y="322.50" font-size="7.4" textLength="42.50" lengthAdjust="spacingAndGlyphs">C57Bl/6 LPS</text>
<text class="p" x="0.60" y="406.00" font-size="10.8" font-weight="bold">G</text>
<text x="121.70" y="405.50" font-size="9.0" text-anchor="middle" textLength="67.40" lengthAdjust="spacingAndGlyphs">Basal respiration</text>
<line x1="55.50" y1="432.50" x2="58.50" y2="432.50" stroke="#231f20" stroke-width="1.0"/>
<text x="52.40" y="435.35" font-size="8.5" text-anchor="end" textLength="8.90" lengthAdjust="spacingAndGlyphs">50</text>
<line x1="55.50" y1="448.50" x2="58.50" y2="448.50" stroke="#231f20" stroke-width="1.0"/>
<text x="52.40" y="451.55" font-size="8.5" text-anchor="end" textLength="8.90" lengthAdjust="spacingAndGlyphs">40</text>
<line x1="55.50" y1="464.50" x2="58.50" y2="464.50" stroke="#231f20" stroke-width="1.0"/>
<text x="52.40" y="467.75" font-size="8.5" text-anchor="end" textLength="8.90" lengthAdjust="spacingAndGlyphs">30</text>
<line x1="55.50" y1="481.50" x2="58.50" y2="481.50" stroke="#231f20" stroke-width="1.0"/>
<text x="52.40" y="483.95" font-size="8.5" text-anchor="end" textLength="8.90" lengthAdjust="spacingAndGlyphs">20</text>
<line x1="55.50" y1="497.50" x2="58.50" y2="497.50" stroke="#231f20" stroke-width="1.0"/>
<text x="52.40" y="500.15" font-size="8.5" text-anchor="end" textLength="8.90" lengthAdjust="spacingAndGlyphs">10</text>
<line x1="55.50" y1="513.50" x2="58.50" y2="513.50" stroke="#231f20" stroke-width="1.0"/>
<text x="52.40" y="516.15" font-size="8.5" text-anchor="end" textLength="4.45" lengthAdjust="spacingAndGlyphs">0</text>
<line x1="77.50" y1="513.30" x2="77.50" y2="515.80" stroke="#231f20" stroke-width="1.0"/>
<line x1="107.50" y1="513.30" x2="107.50" y2="515.80" stroke="#231f20" stroke-width="1.0"/>
<line x1="135.50" y1="513.30" x2="135.50" y2="515.80" stroke="#231f20" stroke-width="1.0"/>
<line x1="164.50" y1="513.30" x2="164.50" y2="515.80" stroke="#231f20" stroke-width="1.0"/>
<rect x="68.20" y="488.20" width="19.30" height="25.10" fill="#85bcd8"/>
<line x1="77.50" y1="488.20" x2="77.50" y2="485.00" stroke="#1e1e1e" stroke-width="1.15"/>
<line x1="72.90" y1="485.50" x2="82.90" y2="485.50" stroke="#1e1e1e" stroke-width="1.2"/>
<circle cx="74.70" cy="485.20" r="2.0" fill="#155f8c"/>
<circle cx="80.90" cy="486.00" r="2.0" fill="#155f8c"/>
<circle cx="78.20" cy="490.80" r="2.0" fill="#155f8c"/>
<rect x="98.10" y="455.70" width="18.20" height="57.60" fill="#c9a2cb"/>
<line x1="107.50" y1="455.70" x2="107.50" y2="445.50" stroke="#1e1e1e" stroke-width="1.15"/>
<line x1="102.30" y1="445.50" x2="112.10" y2="445.50" stroke="#1e1e1e" stroke-width="1.2"/>
<circle cx="106.80" cy="444.30" r="2.0" fill="#6c2a72"/>
<circle cx="106.80" cy="459.20" r="2.0" fill="#6c2a72"/>
<circle cx="106.80" cy="462.20" r="2.0" fill="#6c2a72"/>
<rect x="126.30" y="491.30" width="18.80" height="22.00" fill="#f2939f"/>
<line x1="135.50" y1="491.30" x2="135.50" y2="487.80" stroke="#1e1e1e" stroke-width="1.15"/>
<line x1="130.80" y1="487.50" x2="140.80" y2="487.50" stroke="#1e1e1e" stroke-width="1.2"/>
<circle cx="127.90" cy="491.30" r="2.0" fill="#d0103b"/>
<circle cx="136.00" cy="488.70" r="2.0" fill="#d0103b"/>
<circle cx="143.90" cy="489.90" r="2.0" fill="#d0103b"/>
<rect x="155.30" y="487.80" width="18.20" height="25.50" fill="#98d0b0"/>
<line x1="164.50" y1="487.80" x2="164.50" y2="485.20" stroke="#1e1e1e" stroke-width="1.15"/>
<line x1="160.00" y1="485.50" x2="169.00" y2="485.50" stroke="#1e1e1e" stroke-width="1.2"/>
<circle cx="164.70" cy="484.30" r="2.0" fill="#17955a"/>
<circle cx="161.40" cy="488.50" r="2.0" fill="#17955a"/>
<circle cx="167.90" cy="488.50" r="2.0" fill="#17955a"/>
<line x1="78.10" y1="418.50" x2="135.80" y2="418.50" stroke="#231f20" stroke-width="1.1"/>
<text x="106.90" y="416.00" font-size="7.6" text-anchor="middle" textLength="7.82" lengthAdjust="spacingAndGlyphs">ns</text>
<line x1="78.10" y1="433.50" x2="106.90" y2="433.50" stroke="#231f20" stroke-width="1.1"/>
<circle cx="90.70" cy="428.80" r="1.45" fill="#111"/>
<circle cx="94.50" cy="428.80" r="1.45" fill="#111"/>
<line x1="136.20" y1="433.50" x2="164.60" y2="433.50" stroke="#231f20" stroke-width="1.1"/>
<text x="150.10" y="431.00" font-size="7.6" text-anchor="middle" textLength="7.82" lengthAdjust="spacingAndGlyphs">ns</text>
<text x="78.10" y="526.20" font-size="8.5" text-anchor="middle" textLength="13.80" lengthAdjust="spacingAndGlyphs">Con</text>
<text x="106.90" y="526.20" font-size="8.5" text-anchor="middle" textLength="13.80" lengthAdjust="spacingAndGlyphs">LPS</text>
<text x="135.90" y="526.20" font-size="8.5" text-anchor="middle" textLength="14.20" lengthAdjust="spacingAndGlyphs">Con</text>
<text x="164.40" y="526.20" font-size="8.5" text-anchor="middle" textLength="13.80" lengthAdjust="spacingAndGlyphs">LPS</text>
<text class="c" x="92.30" y="538.50" font-size="9.2" text-anchor="middle" textLength="43.60" lengthAdjust="spacingAndGlyphs">p16–3MR mice</text>
<text class="c" x="149.80" y="538.50" font-size="9.2" text-anchor="middle" textLength="30.00" lengthAdjust="spacingAndGlyphs">Aged mice</text>
<text class="c" x="0" y="0" font-size="8.2" text-anchor="middle" textLength="34.00" lengthAdjust="spacingAndGlyphs" transform="translate(36.90 471.00) rotate(-90)">pmoles/min</text>
<text x="313.30" y="405.50" font-size="9.0" text-anchor="middle" textLength="77.30" lengthAdjust="spacingAndGlyphs">Maximal respiration</text>
<line x1="247.90" y1="432.50" x2="250.90" y2="432.50" stroke="#231f20" stroke-width="1.0"/>
<text x="245.00" y="435.35" font-size="8.5" text-anchor="end" textLength="8.90" lengthAdjust="spacingAndGlyphs">50</text>
<line x1="247.90" y1="448.50" x2="250.90" y2="448.50" stroke="#231f20" stroke-width="1.0"/>
<text x="245.00" y="451.55" font-size="8.5" text-anchor="end" textLength="8.90" lengthAdjust="spacingAndGlyphs">40</text>
<line x1="247.90" y1="464.50" x2="250.90" y2="464.50" stroke="#231f20" stroke-width="1.0"/>
<text x="245.00" y="467.75" font-size="8.5" text-anchor="end" textLength="8.90" lengthAdjust="spacingAndGlyphs">30</text>
<line x1="247.90" y1="481.50" x2="250.90" y2="481.50" stroke="#231f20" stroke-width="1.0"/>
<text x="245.00" y="483.95" font-size="8.5" text-anchor="end" textLength="8.90" lengthAdjust="spacingAndGlyphs">20</text>
<line x1="247.90" y1="497.50" x2="250.90" y2="497.50" stroke="#231f20" stroke-width="1.0"/>
<text x="245.00" y="500.15" font-size="8.5" text-anchor="end" textLength="8.90" lengthAdjust="spacingAndGlyphs">10</text>
<line x1="247.90" y1="513.50" x2="250.90" y2="513.50" stroke="#231f20" stroke-width="1.0"/>
<text x="245.00" y="516.25" font-size="8.5" text-anchor="end" textLength="4.45" lengthAdjust="spacingAndGlyphs">0</text>
<line x1="270.50" y1="513.30" x2="270.50" y2="515.80" stroke="#231f20" stroke-width="1.0"/>
<line x1="299.50" y1="513.30" x2="299.50" y2="515.80" stroke="#231f20" stroke-width="1.0"/>
<line x1="327.50" y1="513.30" x2="327.50" y2="515.80" stroke="#231f20" stroke-width="1.0"/>
<line x1="356.50" y1="513.30" x2="356.50" y2="515.80" stroke="#231f20" stroke-width="1.0"/>
<rect x="260.70" y="485.90" width="18.90" height="27.40" fill="#85bcd8"/>
<line x1="270.50" y1="485.90" x2="270.50" y2="482.00" stroke="#1e1e1e" stroke-width="1.15"/>
<line x1="264.90" y1="482.50" x2="275.50" y2="482.50" stroke="#1e1e1e" stroke-width="1.2"/>
<circle cx="266.50" cy="482.40" r="2.0" fill="#155f8c"/>
<circle cx="272.60" cy="485.50" r="2.0" fill="#155f8c"/>
<circle cx="266.50" cy="488.20" r="2.0" fill="#155f8c"/>
<rect x="290.20" y="453.10" width="17.50" height="60.20" fill="#c9a2cb"/>
<line x1="299.50" y1="453.10" x2="299.50" y2="441.10" stroke="#1e1e1e" stroke-width="1.15"/>
<line x1="294.30" y1="441.50" x2="303.70" y2="441.50" stroke="#1e1e1e" stroke-width="1.2"/>
<circle cx="299.00" cy="441.10" r="2.0" fill="#6c2a72"/>
<circle cx="299.00" cy="451.80" r="2.0" fill="#6c2a72"/>
<circle cx="299.00" cy="464.50" r="2.0" fill="#6c2a72"/>
<rect x="318.40" y="497.30" width="18.40" height="16.00" fill="#f2939f"/>
<line x1="327.50" y1="497.30" x2="327.50" y2="496.20" stroke="#1e1e1e" stroke-width="1.15"/>
<line x1="323.10" y1="496.50" x2="332.10" y2="496.50" stroke="#1e1e1e" stroke-width="1.2"/>
<circle cx="319.80" cy="497.50" r="2.0" fill="#d0103b"/>
<circle cx="327.70" cy="496.60" r="2.0" fill="#d0103b"/>
<circle cx="336.00" cy="497.00" r="2.0" fill="#d0103b"/>
<rect x="347.40" y="488.50" width="18.40" height="24.80" fill="#98d0b0"/>
<line x1="356.50" y1="488.50" x2="356.50" y2="485.00" stroke="#1e1e1e" stroke-width="1.15"/>
<line x1="352.10" y1="485.50" x2="361.10" y2="485.50" stroke="#1e1e1e" stroke-width="1.2"/>
<circle cx="353.20" cy="485.50" r="2.0" fill="#17955a"/>
<circle cx="359.60" cy="487.30" r="2.0" fill="#17955a"/>
<circle cx="353.20" cy="490.80" r="2.0" fill="#17955a"/>
<line x1="270.00" y1="418.50" x2="328.00" y2="418.50" stroke="#231f20" stroke-width="1.1"/>
<text x="299.00" y="416.00" font-size="7.6" text-anchor="middle" textLength="7.82" lengthAdjust="spacingAndGlyphs">ns</text>
<line x1="270.90" y1="433.50" x2="299.00" y2="433.50" stroke="#231f20" stroke-width="1.1"/>
<circle cx="283.00" cy="428.60" r="1.45" fill="#111"/>
<circle cx="286.80" cy="428.60" r="1.45" fill="#111"/>
<line x1="328.10" y1="433.50" x2="356.50" y2="433.50" stroke="#231f20" stroke-width="1.1"/>
<text x="342.10" y="431.00" font-size="7.6" text-anchor="middle" textLength="7.82" lengthAdjust="spacingAndGlyphs">ns</text>
<text x="270.00" y="526.20" font-size="8.5" text-anchor="middle" textLength="14.00" lengthAdjust="spacingAndGlyphs">Con</text>
<text x="299.10" y="526.20" font-size="8.5" text-anchor="middle" textLength="14.20" lengthAdjust="spacingAndGlyphs">LPS</text>
<text x="327.50" y="526.20" font-size="8.5" text-anchor="middle" textLength="14.00" lengthAdjust="spacingAndGlyphs">Con</text>
<text x="355.60" y="526.20" font-size="8.5" text-anchor="middle" textLength="13.80" lengthAdjust="spacingAndGlyphs">LPS</text>
<text class="c" x="284.40" y="538.50" font-size="9.2" text-anchor="middle" textLength="43.20" lengthAdjust="spacingAndGlyphs">p16–3MR mice</text>
<text class="c" x="341.60" y="538.50" font-size="9.2" text-anchor="middle" textLength="30.20" lengthAdjust="spacingAndGlyphs">Aged mice</text>
<text class="c" x="0" y="0" font-size="8.2" text-anchor="middle" textLength="34.00" lengthAdjust="spacingAndGlyphs" transform="translate(230.60 471.00) rotate(-90)">pmoles/min</text>
<line x1="289.50" y1="16.90" x2="289.50" y2="99.60" stroke="#231f20" stroke-width="1.2"/>
<line x1="288.90" y1="99.50" x2="367.30" y2="99.50" stroke="#231f20" stroke-width="1.2"/>
<line x1="439.50" y1="17.00" x2="439.50" y2="99.60" stroke="#231f20" stroke-width="1.2"/>
<line x1="438.40" y1="99.50" x2="517.50" y2="99.50" stroke="#231f20" stroke-width="1.2"/>
<line x1="58.50" y1="150.60" x2="58.50" y2="235.00" stroke="#231f20" stroke-width="1.2"/>
<line x1="58.00" y1="234.50" x2="139.40" y2="234.50" stroke="#231f20" stroke-width="1.2"/>
<line x1="250.50" y1="150.40" x2="250.50" y2="234.60" stroke="#231f20" stroke-width="1.2"/>
<line x1="250.20" y1="234.50" x2="330.60" y2="234.50" stroke="#231f20" stroke-width="1.2"/>
<line x1="438.50" y1="150.40" x2="438.50" y2="234.80" stroke="#231f20" stroke-width="1.2"/>
<line x1="438.00" y1="234.50" x2="519.60" y2="234.50" stroke="#231f20" stroke-width="1.2"/>
<line x1="59.50" y1="280.80" x2="59.50" y2="353.80" stroke="#231f20" stroke-width="1.2"/>
<line x1="58.40" y1="353.50" x2="127.80" y2="353.50" stroke="#231f20" stroke-width="1.2"/>
<line x1="155.50" y1="281.30" x2="155.50" y2="353.80" stroke="#231f20" stroke-width="1.2"/>
<line x1="154.60" y1="353.50" x2="227.60" y2="353.50" stroke="#231f20" stroke-width="1.2"/>
<line x1="250.50" y1="281.30" x2="250.50" y2="353.80" stroke="#231f20" stroke-width="1.2"/>
<line x1="249.70" y1="353.50" x2="323.90" y2="353.50" stroke="#231f20" stroke-width="1.2"/>
<line x1="397.50" y1="271.60" x2="397.50" y2="413.20" stroke="#231f20" stroke-width="1.2"/>
<line x1="396.80" y1="412.50" x2="517.60" y2="412.50" stroke="#231f20" stroke-width="1.2"/>
<line x1="58.50" y1="428.50" x2="58.50" y2="513.90" stroke="#231f20" stroke-width="1.2"/>
<line x1="57.90" y1="513.50" x2="183.70" y2="513.50" stroke="#231f20" stroke-width="1.2"/>
<line x1="250.50" y1="428.50" x2="250.50" y2="513.90" stroke="#231f20" stroke-width="1.2"/>
<line x1="250.30" y1="513.50" x2="375.80" y2="513.50" stroke="#231f20" stroke-width="1.2"/>
</svg>
</body></html>
